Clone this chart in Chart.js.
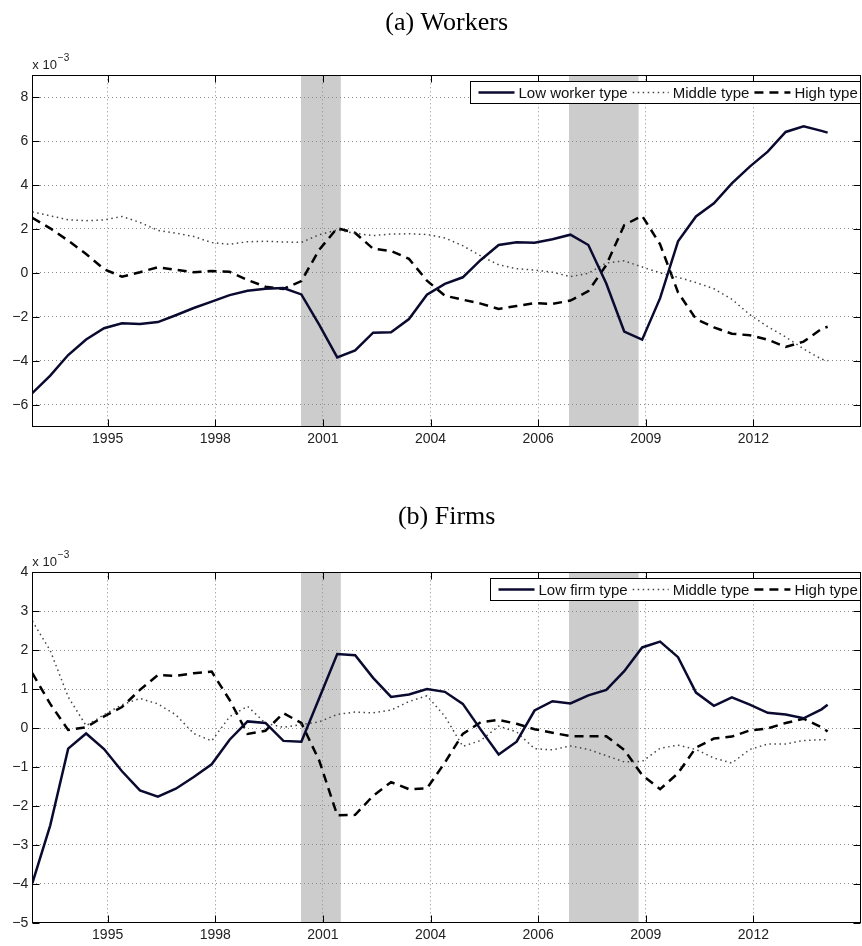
<!DOCTYPE html>
<html>
<head>
<meta charset="utf-8">
<script src="https://cdn.jsdelivr.net/npm/chart.js@4.4.0/dist/chart.umd.min.js"></script>
<style>
  body { margin: 0; background: #fff; }
  #wrap { position: relative; width: 862px; height: 946px; }
  canvas { position: absolute; left: 0; }
</style>
</head>
<body>
<div id="wrap">
  <canvas id="workers" width="862" height="470" style="top:0"></canvas>
  <canvas id="firms" width="862" height="476" style="top:470px"></canvas>
</div>
<script>
// time in decimal years, values in units of 10^-3
var years = [1992.9, 1993.4, 1993.9, 1994.4, 1994.9, 1995.4, 1995.9, 1996.4, 1996.9, 1997.4,
  1997.9, 1998.4, 1998.9, 1999.4, 1999.9, 2000.4, 2000.9, 2001.4, 2001.9, 2002.4,
  2002.9, 2003.4, 2003.9, 2004.4, 2004.9, 2005.4, 2005.9, 2006.4, 2006.9, 2007.4,
  2007.9, 2008.4, 2008.9, 2009.4, 2009.9, 2010.4, 2010.9, 2011.4, 2011.9, 2012.4,
  2012.9, 2013.4, 2013.9, 2014.4, 2014.9, 2015.07];

var workerLow = [-5.48, -4.68, -3.74, -3.03, -2.52, -2.29, -2.33, -2.24, -1.93, -1.6,
  -1.31, -1.01, -0.81, -0.72, -0.69, -0.98, -2.37, -3.85, -3.53, -2.72,
  -2.7, -2.1, -0.99, -0.5, -0.2, 0.59, 1.27, 1.4, 1.37, 1.53,
  1.74, 1.27, -0.48, -2.67, -3.04, -1.15, 1.44, 2.57, 3.17, 4.08,
  4.84, 5.52, 6.42, 6.68, 6.47, 6.39];
var workerMiddle = [2.78, 2.6, 2.42, 2.38, 2.41, 2.57, 2.3, 1.94, 1.81, 1.66,
  1.38, 1.3, 1.42, 1.44, 1.41, 1.39, 1.74, 1.96, 1.8, 1.7,
  1.77, 1.78, 1.75, 1.59, 1.24, 0.77, 0.37, 0.19, 0.13, 0.03,
  -0.17, -0.02, 0.45, 0.55, 0.27, 0.0, -0.2, -0.44, -0.72, -1.2,
  -1.9, -2.45, -2.92, -3.46, -3.93, -4.0];
var workerHigh = [2.51, 2.03, 1.47, 0.86, 0.17, -0.17, 0.03, 0.26, 0.14, 0.03,
  0.09, 0.05, -0.32, -0.63, -0.73, -0.37, 1.06, 2.04, 1.82, 1.1,
  1.0, 0.64, -0.35, -1.04, -1.22, -1.4, -1.64, -1.51, -1.38, -1.41,
  -1.26, -0.83, 0.36, 2.18, 2.6, 1.3, -0.89, -2.1, -2.48, -2.77,
  -2.84, -3.04, -3.37, -3.13, -2.55, -2.45];

var firmLow = [-3.99, -2.5, -0.53, -0.14, -0.54, -1.11, -1.6, -1.76, -1.56, -1.26,
  -0.93, -0.3, 0.17, 0.13, -0.33, -0.35, 0.77, 1.9, 1.87, 1.29,
  0.8, 0.86, 1.0, 0.93, 0.62, -0.04, -0.68, -0.35, 0.45, 0.69,
  0.63, 0.84, 0.98, 1.46, 2.07, 2.22, 1.82, 0.91, 0.57, 0.79,
  0.6, 0.39, 0.35, 0.25, 0.48, 0.6];
var firmMiddle = [2.75, 1.99, 0.8, 0.06, 0.34, 0.6, 0.76, 0.62, 0.34, -0.14,
  -0.33, 0.29, 0.56, 0.12, 0.02, 0.09, 0.16, 0.35, 0.41, 0.39,
  0.46, 0.68, 0.83, 0.3, -0.47, -0.32, 0.05, -0.1, -0.53, -0.56,
  -0.46, -0.55, -0.71, -0.87, -0.86, -0.52, -0.44, -0.55, -0.77, -0.9,
  -0.55, -0.41, -0.41, -0.32, -0.3, -0.3];
var firmHigh = [1.41, 0.62, -0.05, 0.02, 0.3, 0.54, 0.98, 1.36, 1.34, 1.41,
  1.45, 0.72, -0.15, -0.07, 0.38, 0.13, -0.84, -2.24, -2.23, -1.74,
  -1.39, -1.57, -1.55, -0.89, -0.15, 0.15, 0.21, 0.11, -0.03, -0.12,
  -0.21, -0.21, -0.21, -0.56, -1.21, -1.57, -1.16, -0.5, -0.27, -0.22,
  -0.06, -0.01, 0.13, 0.24, 0.02, -0.09];

var xTickPos = [1995, 1998, 2001, 2004, 2007, 2010, 2013];
var xTickLabels = ["1995", "1998", "2001", "2004", "2006", "2009", "2012"];
var workerTicks = [-6, -4, -2, 0, 2, 4, 6, 8];
var firmTicks = [-5, -4, -3, -2, -1, 0, 1, 2, 3, 4];
var recessionStart = [2000.39, 2007.86];
var recessionEnd = [2001.5, 2009.8];

Chart.defaults.font.family = "'Liberation Sans', Arial, sans-serif";
Chart.defaults.color = "#222";

function pairs(ys) {
  return ys.map(function (y, i) { return { x: years[i], y: y }; });
}

function minusSign(v) {
  return v < 0 ? "\u2212" + Math.abs(v) : String(v);
}

// grey recession bands, drawn under the grid
var recessionBands = {
  id: "recessionBands",
  beforeDraw: function (chart) {
    var ctx = chart.ctx, xs = chart.scales.x, a = chart.chartArea;
    ctx.save();
    ctx.fillStyle = "#cccccc";
    for (var i = 0; i < recessionStart.length; i++) {
      var x0 = xs.getPixelForValue(recessionStart[i]);
      var x1 = xs.getPixelForValue(recessionEnd[i]);
      ctx.fillRect(x0, a.top, x1 - x0, a.bottom - a.top);
    }
    ctx.restore();
  }
};

// box round the plot, inward tick marks, the x 10^-3 note
var frameAndTicks = {
  id: "frameAndTicks",
  afterDatasetsDraw: function (chart) {
    var ctx = chart.ctx, a = chart.chartArea;
    var L = Math.round(a.left) + 0.5, R = Math.round(a.right) - 0.5;
    var T = Math.round(a.top) + 0.5, B = Math.round(a.bottom) - 0.5;
    ctx.save();
    ctx.strokeStyle = "#000";
    ctx.lineWidth = 1;
    ctx.strokeRect(L, T, R - L, B - T);
    ctx.beginPath();
    chart.scales.x.ticks.forEach(function (t) {
      var px = Math.round(chart.scales.x.getPixelForValue(t.value)) + 0.5;
      ctx.moveTo(px, B); ctx.lineTo(px, B - 7);
      ctx.moveTo(px, T); ctx.lineTo(px, T + 7);
    });
    chart.scales.y.ticks.forEach(function (t) {
      var py = Math.round(chart.scales.y.getPixelForValue(t.value)) + 0.5;
      ctx.moveTo(L, py); ctx.lineTo(L + 7, py);
      ctx.moveTo(R, py); ctx.lineTo(R - 7, py);
    });
    ctx.stroke();

    ctx.fillStyle = "#222";
    ctx.textBaseline = "alphabetic";
    ctx.font = "13px 'Liberation Sans'";
    ctx.fillText("x 10", a.left, a.top - 6);
    var w = ctx.measureText("x 10").width;
    ctx.font = "10px 'Liberation Sans'";
    ctx.fillText("\u22123", a.left + w + 1, a.top - 14);
    ctx.restore();
  }
};

// boxed legend inside the top right of the plot
var boxLegend = {
  id: "boxLegend",
  afterDraw: function (chart) {
    var ctx = chart.ctx, a = chart.chartArea, sets = chart.data.datasets;
    ctx.save();
    ctx.font = "15px 'Liberation Sans'";
    var widths = sets.map(function (d) { return ctx.measureText(d.label).width; });
    var total = 8 + 3;
    widths.forEach(function (w, i) { total += 36 + 4 + w + (i < widths.length - 1 ? 5 : 0); });
    var right = Math.round(a.right) - 0.5, top = Math.round(a.top + 6) + 0.5, h = 22;
    var left = Math.round(right - total) + 0.5;
    ctx.fillStyle = "#fff";
    ctx.fillRect(left, top, right - left, h);
    ctx.strokeStyle = "#000";
    ctx.lineWidth = 1;
    ctx.strokeRect(left, top, right - left, h);
    var cx = left + 8, cy = top + h / 2;
    sets.forEach(function (d, i) {
      ctx.save();
      ctx.strokeStyle = d.borderColor;
      ctx.lineWidth = d.borderWidth;
      ctx.setLineDash(d.borderDash || []);
      ctx.beginPath();
      ctx.moveTo(cx, cy);
      ctx.lineTo(cx + 36, cy);
      ctx.stroke();
      ctx.restore();
      cx += 40;
      ctx.fillStyle = "#111";
      ctx.textBaseline = "middle";
      ctx.fillText(d.label, cx, cy + 1);
      cx += widths[i] + 5;
    });
    ctx.restore();
  }
};

function makeChart(id, title, lowLabel, low, middle, high, yMin, yMax, yTicks, pad) {
  return new Chart(document.getElementById(id), {
    type: "line",
    data: {
      datasets: [
        { label: lowLabel, data: pairs(low), borderColor: "#0a0a30", borderWidth: 2.5 },
        { label: "Middle type", data: pairs(middle), borderColor: "#444", borderWidth: 1.5, borderDash: [1.5, 3.5] },
        { label: "High type", data: pairs(high), borderColor: "#000", borderWidth: 2.5, borderDash: [9, 6] }
      ]
    },
    options: {
      responsive: false,
      animation: false,
      devicePixelRatio: 1,
      elements: { point: { radius: 0 }, line: { tension: 0, fill: false } },
      layout: { padding: { left: 0, right: 1, top: 0, bottom: pad.bottom } },
      plugins: {
        legend: { display: false },
        tooltip: { enabled: false },
        title: {
          display: true,
          text: title,
          fullSize: false,
          color: "#000",
          font: { family: "'Liberation Serif', 'Times New Roman', serif", size: 26, weight: "normal" },
          padding: { top: pad.titleTop, bottom: pad.titleBottom }
        }
      },
      scales: {
        x: {
          type: "linear",
          min: 1992.9,
          max: 2016.0,
          afterBuildTicks: function (s) { s.ticks = xTickPos.map(function (v) { return { value: v }; }); },
          afterFit: function (s) { s.height = pad.xHeight; },
          ticks: {
            padding: 4,
            maxRotation: 0,
            font: { size: 14 },
            callback: function (v, i) { return xTickLabels[i]; }
          },
          grid: { color: "#8c8c8c", lineWidth: 1, drawTicks: false },
          border: { display: false, dash: [1, 3] }
        },
        y: {
          min: yMin,
          max: yMax,
          afterBuildTicks: function (s) { s.ticks = yTicks.map(function (v) { return { value: v }; }); },
          afterFit: function (s) { s.width = 32.3; },
          ticks: { padding: 4, font: { size: 14 }, callback: minusSign },
          grid: { color: "#8c8c8c", lineWidth: 1, drawTicks: false },
          border: { display: false, dash: [1, 3] }
        }
      }
    },
    plugins: [recessionBands, frameAndTicks, boxLegend]
  });
}

makeChart("workers", "(a) Workers", "Low worker type", workerLow, workerMiddle, workerHigh,
  -7, 9, workerTicks, { titleTop: 7.4, titleBottom: 36.7, xHeight: 26, bottom: 17.4 });
makeChart("firms", "(b) Firms", "Low firm type", firmLow, firmMiddle, firmHigh,
  -5, 4, firmTicks, { titleTop: 31.9, titleBottom: 39.2, xHeight: 22, bottom: 1.3 });
</script>
</body>
</html>
